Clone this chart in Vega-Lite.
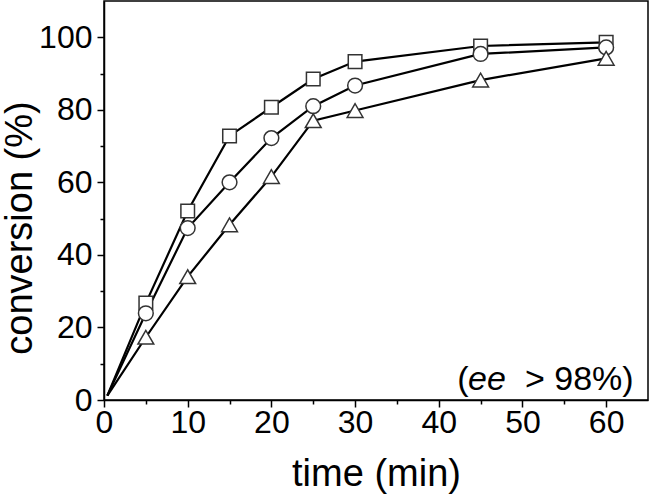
{
  "$schema": "https://vega.github.io/schema/vega-lite/v6.json",
  "width": 544,
  "height": 399,
  "autosize": "none",
  "padding": {"left": 104, "top": 1, "right": 2, "bottom": 97},
  "background": "white",
  "data": {
    "values": [
      {"series": "square", "time": 0.4, "conversion": 1.2},
      {"series": "square", "time": 5, "conversion": 26.7},
      {"series": "square", "time": 10, "conversion": 52.1},
      {"series": "square", "time": 15, "conversion": 72.8},
      {"series": "square", "time": 20, "conversion": 80.7},
      {"series": "square", "time": 25, "conversion": 88.5},
      {"series": "square", "time": 30, "conversion": 93.3},
      {"series": "square", "time": 45, "conversion": 97.6},
      {"series": "square", "time": 60, "conversion": 98.6},
      {"series": "circle", "time": 0.4, "conversion": 1.2},
      {"series": "circle", "time": 5, "conversion": 23.9},
      {"series": "circle", "time": 10, "conversion": 47.4},
      {"series": "circle", "time": 15, "conversion": 60},
      {"series": "circle", "time": 20, "conversion": 72.2},
      {"series": "circle", "time": 25, "conversion": 81},
      {"series": "circle", "time": 30, "conversion": 86.7},
      {"series": "circle", "time": 45, "conversion": 95.4},
      {"series": "circle", "time": 60, "conversion": 97.2},
      {"series": "triangle", "time": 0.4, "conversion": 1.2},
      {"series": "triangle", "time": 5, "conversion": 17.3},
      {"series": "triangle", "time": 10, "conversion": 34},
      {"series": "triangle", "time": 15, "conversion": 48.3},
      {"series": "triangle", "time": 20, "conversion": 61.6},
      {"series": "triangle", "time": 25, "conversion": 77},
      {"series": "triangle", "time": 30, "conversion": 79.8},
      {"series": "triangle", "time": 45, "conversion": 88.2},
      {"series": "triangle", "time": 60, "conversion": 94.2}
    ]
  },
  "resolve": {"scale": {"x": "shared", "y": "shared"}, "axis": {"x": "independent", "y": "independent"}},
  "layer": [
    {
      "mark": {"type": "line", "color": "black", "strokeWidth": 2.2},
      "encoding": {
        "x": {
          "field": "time", "type": "quantitative",
          "scale": {"domain": [0, 65], "nice": false, "zero": false},
          "axis": {
            "orient": "bottom",
            "values": [0, 10, 20, 30, 40, 50, 60],
            "title": "time (min)",
            "tickSize": 7, "tickWidth": 1.5,
            "labelFontSize": 32, "labelBaseline": "alphabetic", "labelPadding": 25,
            "labelFlush": false, "labelOverlap": false,
            "titleFontSize": 38, "titleFontWeight": "normal",
            "titleX": 272, "titleY": 85, "titleBaseline": "alphabetic", "titleAlign": "center", "titleAnchor": null
          }
        },
        "y": {
          "field": "conversion", "type": "quantitative",
          "scale": {"domain": [0, 110], "nice": false, "zero": false},
          "axis": {
            "orient": "left",
            "values": [0, 20, 40, 60, 80, 100],
            "title": "conversion (%)",
            "tickSize": 7, "tickWidth": 1.5,
            "labelFontSize": 32, "labelPadding": 5, "labelAlign": "right", "labelBaseline": "middle",
            "labelFlush": false, "labelOverlap": false,
            "titleFontSize": 38, "titleFontWeight": "normal", "titleAngle": -90,
            "titleX": -73, "titleY": 226.5, "titleBaseline": "alphabetic", "titleAlign": "center", "titleAnchor": null
          }
        },
        "detail": {"field": "series", "type": "nominal"}
      }
    },
    {
      "transform": [{"filter": "datum.time > 1"}],
      "mark": {"type": "point", "filled": true, "fill": "white", "stroke": "#333333", "strokeWidth": 1.5, "opacity": 1},
      "encoding": {
        "x": {"field": "time", "type": "quantitative", "axis": null},
        "y": {"field": "conversion", "type": "quantitative", "axis": null},
        "shape": {
          "field": "series", "type": "nominal", "legend": null,
          "scale": {"domain": ["square", "circle", "triangle"], "range": ["square", "circle", "triangle-up"]}
        },
        "size": {
          "field": "series", "type": "nominal", "legend": null,
          "scale": {"domain": ["square", "circle", "triangle"], "range": [185, 250, 340]}
        }
      }
    },
    {
      "mark": {"type": "point", "opacity": 0},
      "encoding": {
        "x": {
          "field": "time", "type": "quantitative",
          "axis": {"orient": "bottom", "values": [5, 15, 25, 35, 45, 55], "labels": false, "domain": false, "grid": false, "title": null, "tickSize": 4, "tickWidth": 1.5}
        },
        "y": {
          "field": "conversion", "type": "quantitative",
          "axis": {"orient": "left", "values": [10, 30, 50, 70, 90], "labels": false, "domain": false, "grid": false, "title": null, "tickSize": 4, "tickWidth": 1.5}
        }
      }
    },
    {
      "data": {"values": [{"label": "("}]},
      "mark": {"type": "text", "fontSize": 34, "align": "left", "baseline": "alphabetic", "color": "black"},
      "encoding": {
        "text": {"field": "label", "type": "nominal"},
        "x": {"datum": 42.2, "type": "quantitative", "axis": null},
        "y": {"datum": 2.76, "type": "quantitative", "axis": null}
      }
    },
    {
      "data": {"values": [{"label": "ee"}]},
      "mark": {"type": "text", "fontSize": 34, "fontStyle": "italic", "align": "left", "baseline": "alphabetic", "color": "black"},
      "encoding": {
        "text": {"field": "label", "type": "nominal"},
        "x": {"datum": 43.5, "type": "quantitative", "axis": null},
        "y": {"datum": 2.76, "type": "quantitative", "axis": null}
      }
    },
    {
      "data": {"values": [{"label": "> 98%)"}]},
      "mark": {"type": "text", "fontSize": 34, "align": "left", "baseline": "alphabetic", "color": "black"},
      "encoding": {
        "text": {"field": "label", "type": "nominal"},
        "x": {"datum": 50.3, "type": "quantitative", "axis": null},
        "y": {"datum": 2.76, "type": "quantitative", "axis": null}
      }
    }
  ],
  "config": {
    "font": "Liberation Sans",
    "view": {"stroke": "black", "strokeWidth": 1.5},
    "text": {"font": "Liberation Sans"},
    "axis": {
      "labelFont": "Liberation Sans", "titleFont": "Liberation Sans",
      "labelColor": "black", "titleColor": "black",
      "domainColor": "black", "domainWidth": 1.5, "tickColor": "black",
      "grid": false
    }
  }
}
